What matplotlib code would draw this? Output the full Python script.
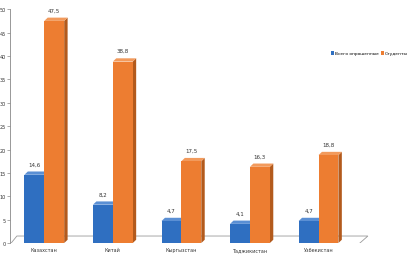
import matplotlib
matplotlib.use('Agg')
import matplotlib.pyplot as plt
from matplotlib.patches import Polygon, Rectangle
import numpy as np

countries = ['Казахстан', 'Китай', 'Кыргызстан', 'Таджикистан', 'Узбекистан']
all_resp = [14.6, 8.2, 4.7, 4.1, 4.7]
students = [47.5, 38.8, 17.5, 16.3, 18.8]
series_names = ['Всего опрошенные', 'Студенты']

front = ['#2f6fc1', '#ed7d31']
side = ['#1f4e8c', '#b35a1c']
top = ['#5a8fd4', '#f29a5c']

fig = plt.figure(figsize=(4.09, 2.55), dpi=100)
ax = fig.add_axes([0.0245, 0.043, 0.88, 0.917])
ax.set_xlim(-0.5, 4.75)
ax.set_ylim(0, 50)

w = 0.29
dx, dy = 0.05, 0.7

# floor
fl = Polygon([(-0.5, -0.3), (4.58, -0.3), (4.72, 1.5), (-0.4, 1.5)],
             closed=True, facecolor='white', edgecolor='#9a9a9a', lw=0.6, zorder=1)
ax.add_patch(fl)

x = np.arange(len(countries))
for k, vals in enumerate([all_resp, students]):
    for i, v in enumerate(vals):
        x0 = x[i] - w + k * w
        ax.add_patch(Polygon([(x0 + w, 0), (x0 + w + dx, dy), (x0 + w + dx, v + dy), (x0 + w, v)],
                             closed=True, facecolor=side[k], edgecolor='none', zorder=2))
        ax.add_patch(Polygon([(x0, v), (x0 + dx, v + dy), (x0 + w + dx, v + dy), (x0 + w, v)],
                             closed=True, facecolor=top[k], edgecolor='none', zorder=2))
        ax.add_patch(Rectangle((x0, 0), w, v, facecolor=front[k], edgecolor='none', zorder=3))
        ax.text(x0 + w / 2, v + 1.8, str(v).replace('.', ','), ha='center', va='bottom',
                fontsize=4, color='#333333', zorder=4)

for s in ['top', 'right', 'bottom']:
    ax.spines[s].set_visible(False)
ax.spines['left'].set_color('#888888')
ax.spines['left'].set_linewidth(0.6)
ax.set_yticks(np.arange(0, 51, 5))
ax.tick_params(axis='y', labelsize=3.5, length=2, width=0.5, color='#888888',
               labelcolor='#333333', pad=1)
ax.set_xticks(x)
ax.set_xticklabels(countries)
ax.tick_params(axis='x', labelsize=3.5, length=0, pad=3, labelcolor='#333333')

handles = [Rectangle((0, 0), 1, 1, facecolor=front[0]), Rectangle((0, 0), 1, 1, facecolor=front[1])]
fig.legend(handles, series_names, loc='center left', bbox_to_anchor=(0.808, 0.787),
           frameon=False, fontsize=3.2, ncol=2, handlelength=0.7, handleheight=0.8,
           handletextpad=0.2, columnspacing=0.4, borderpad=0.1, borderaxespad=0)

fig.savefig('out.png', dpi=100)
